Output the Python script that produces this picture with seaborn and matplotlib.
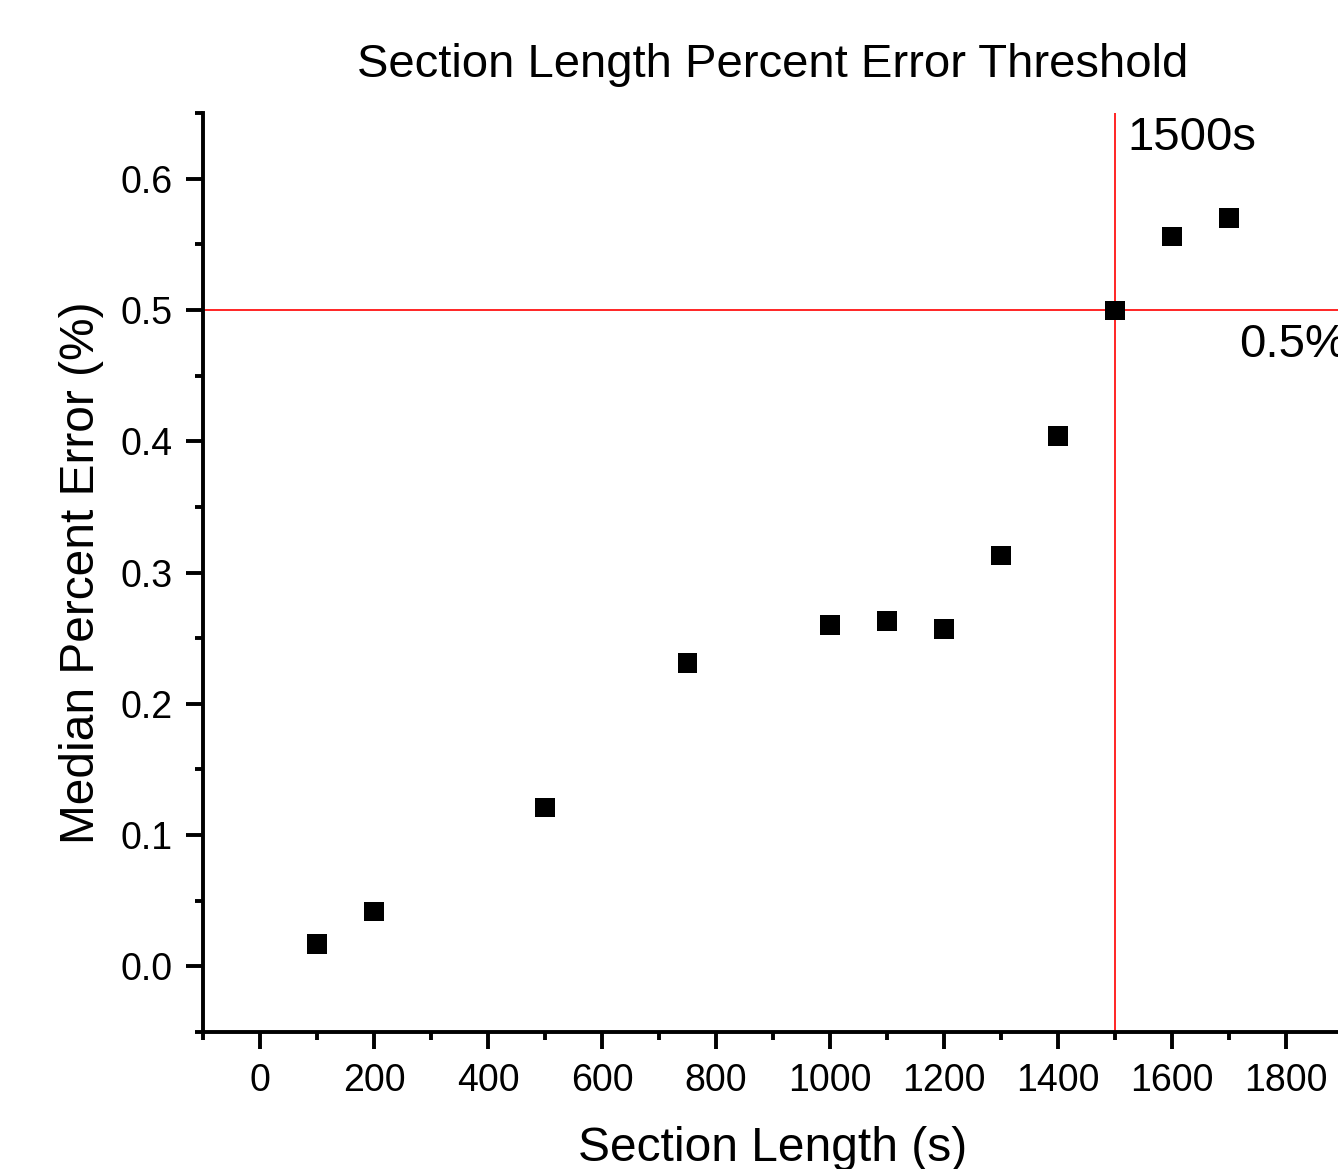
import matplotlib
matplotlib.use("Agg")
import matplotlib.pyplot as plt
import seaborn as sns
import pandas as pd
from matplotlib.ticker import MultipleLocator

# -------------------------------------------------------------------
# Data
# -------------------------------------------------------------------

section_length = [100, 200, 500, 750, 1000, 1100, 1200, 1300, 1400, 1500, 1600, 1700]
median_error = [0.017, 0.042, 0.121, 0.231, 0.260, 0.263, 0.257, 0.313, 0.404, 0.4995, 0.556, 0.570]

threshold_x = 1500
threshold_y = 0.5

df = pd.DataFrame({'Section Length': section_length, 'Median Error': median_error})

# -------------------------------------------------------------------
# Plot
# -------------------------------------------------------------------

sns.set_style("ticks")
plt.rcParams['font.family'] = ['Liberation Sans', 'DejaVu Sans']
plt.rcParams.update({
    'text.color': 'black', 'axes.labelcolor': 'black', 'axes.edgecolor': 'black',
    'xtick.color': 'black', 'ytick.color': 'black',
})

fig = plt.figure(figsize=(13.38, 11.69), dpi=100)
ax = fig.add_axes([0.1517, 0.1172, 0.852, 0.7861])

ax.axhline(threshold_y, color='red', lw=1.2, zorder=1)
ax.axvline(threshold_x, color='red', lw=1.2, zorder=1)

sns.scatterplot(data=df, x='Section Length', y='Median Error', marker='s',
                s=195, color='black', edgecolor='none', ax=ax, zorder=3)

ax.set_xlim(-100, 1900)
ax.set_ylim(-0.05, 0.65)
ax.xaxis.set_major_locator(MultipleLocator(200))
ax.xaxis.set_minor_locator(MultipleLocator(100))
ax.yaxis.set_major_locator(MultipleLocator(0.1))
ax.yaxis.set_minor_locator(MultipleLocator(0.05))
ax.yaxis.set_major_formatter(plt.FuncFormatter(lambda v, p: f"{v:.1f}"))

for side in ['top', 'right']:
    ax.spines[side].set_visible(False)
for side in ['left', 'bottom']:
    ax.spines[side].set_linewidth(2.8)

ax.tick_params(which='major', direction='out', length=12, width=2.8, labelsize=27, pad=10)
ax.tick_params(which='minor', direction='out', length=6, width=2.8)

ax.set_xlabel('Section Length (s)', fontsize=34.5, labelpad=20)
ax.set_ylabel('Median Percent Error (%)', fontsize=34.5, labelpad=12)
ax.set_title('Section Length Percent Error Threshold', fontsize=34, pad=26)

ax.text(1522, 0.648, '1500s', fontsize=34, va='top', ha='left')
ax.text(1718, 0.490, '0.5%', fontsize=34, va='top', ha='left')

fig.savefig('out.png', dpi=100)
